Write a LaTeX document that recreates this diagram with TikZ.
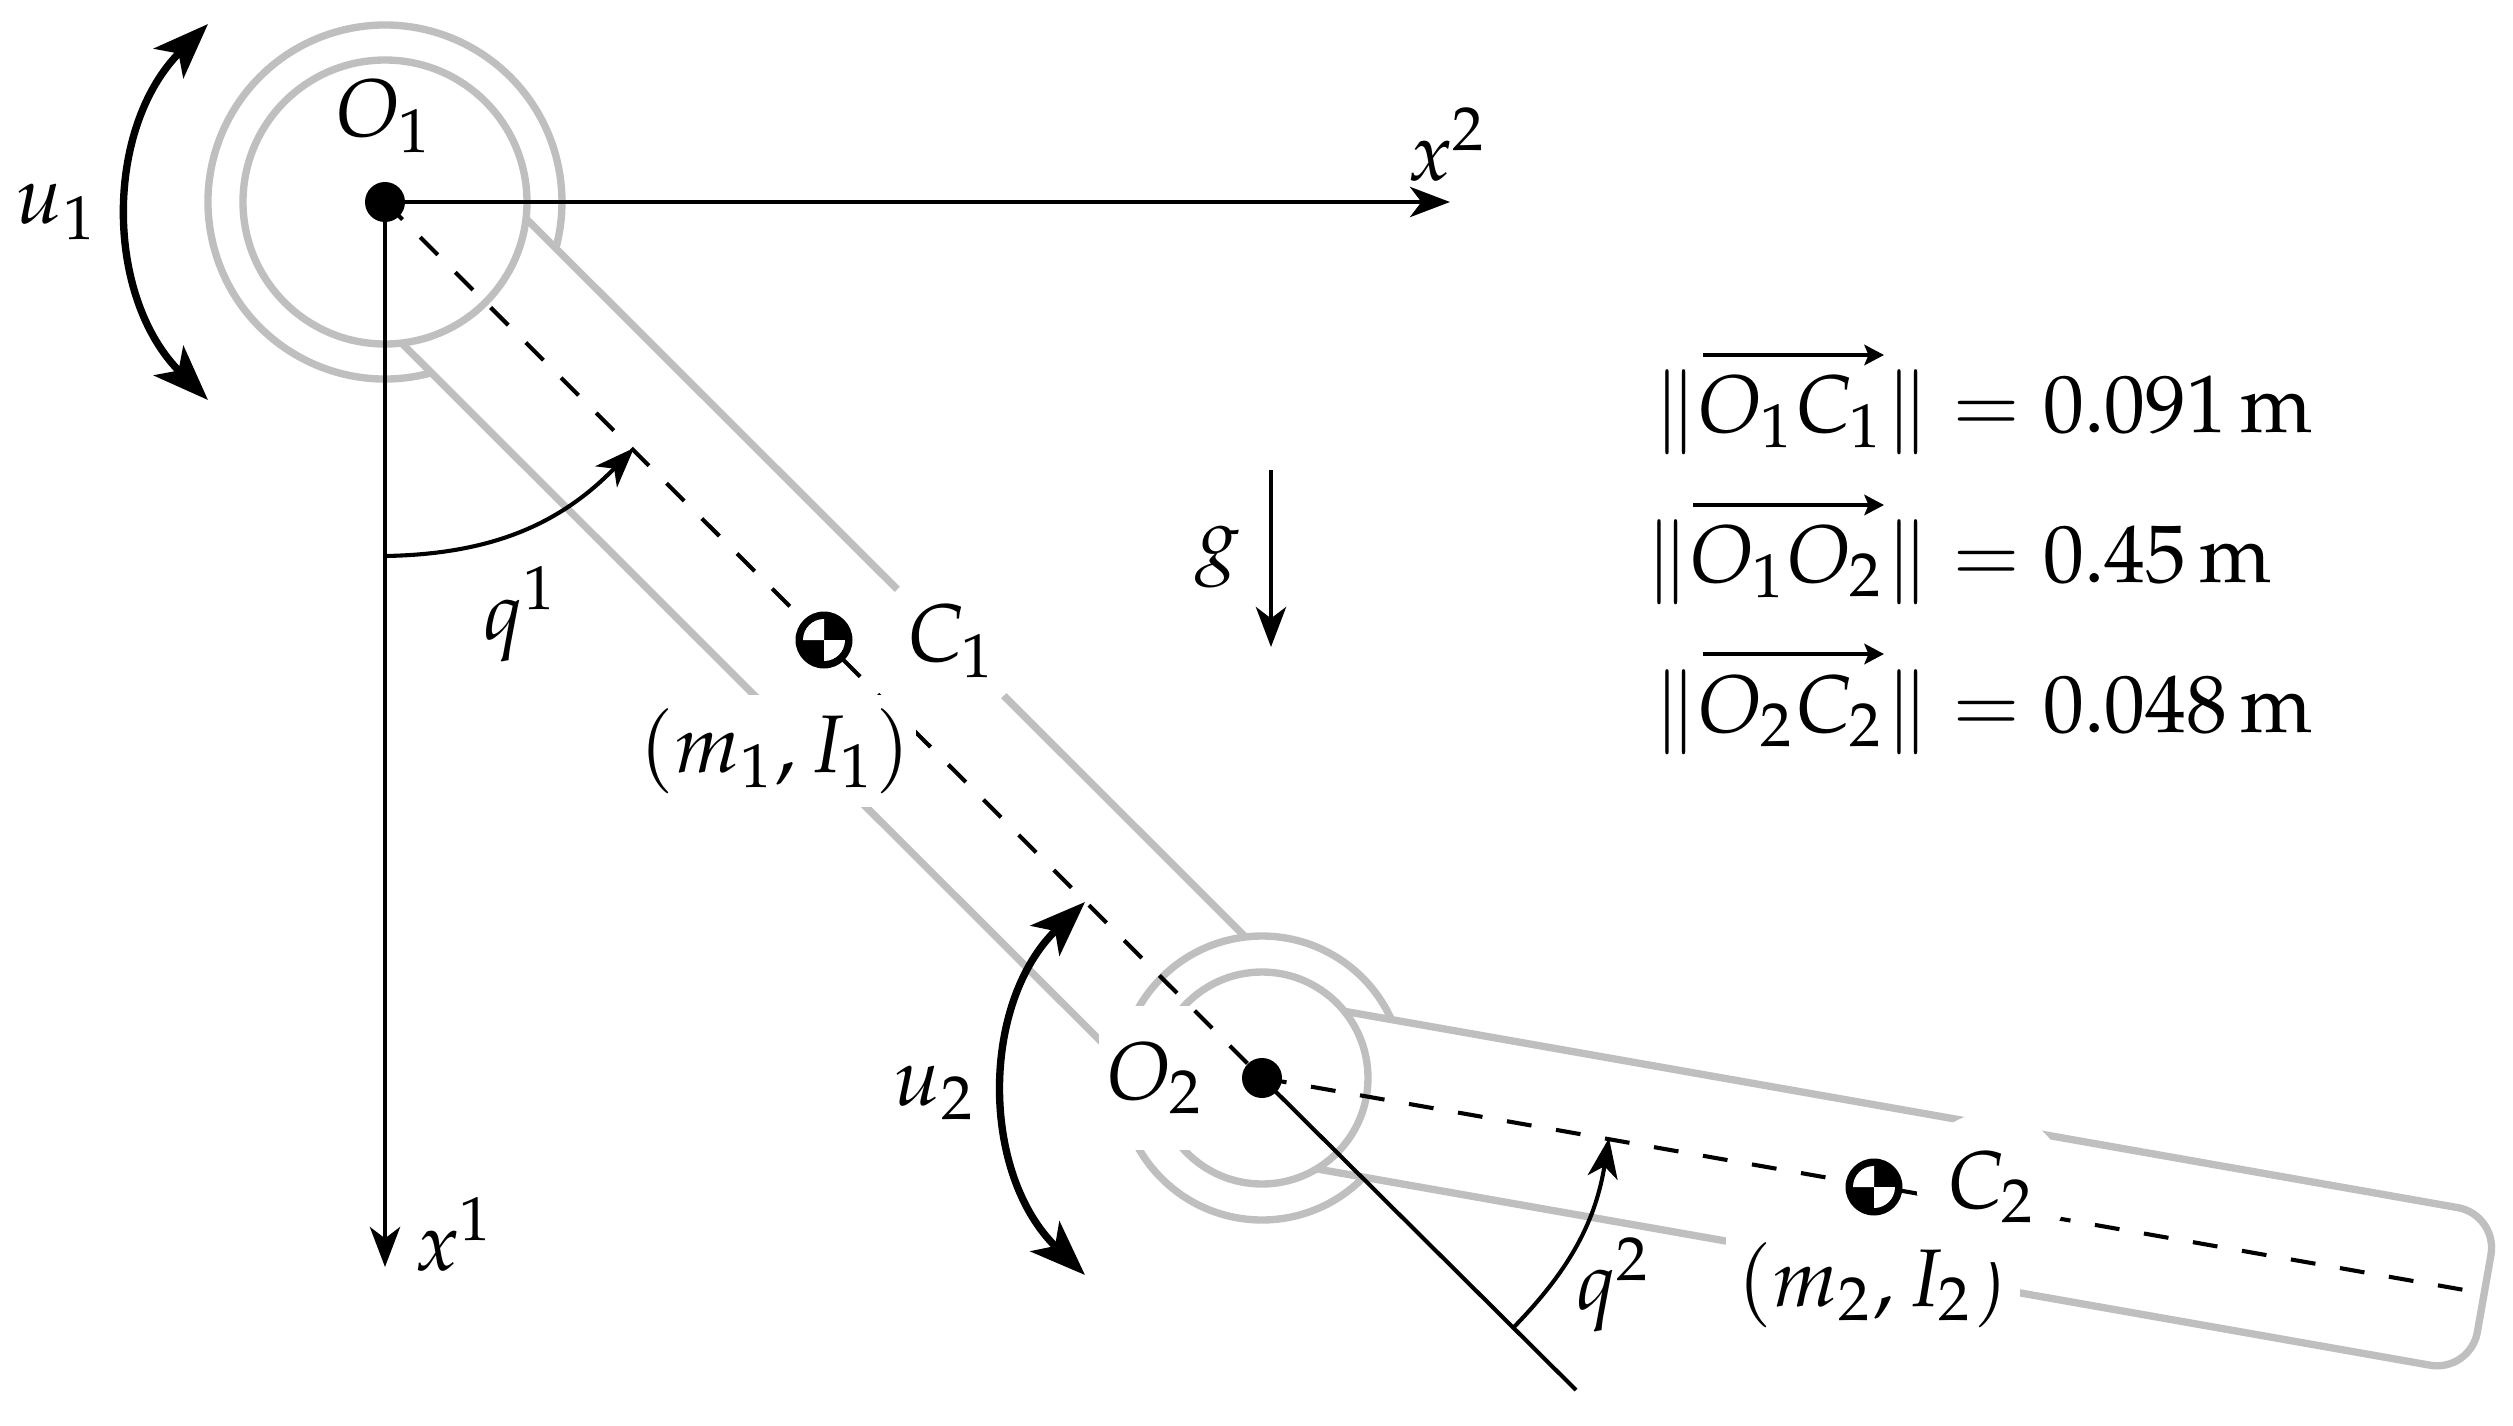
\documentclass[tikz,border=0pt]{standalone}
\usepackage{amsmath}
\usepackage{mathpazo}
\usetikzlibrary{arrows.meta}

\tikzset{
    thintip/.tip={Stealth[length=4.9pt,width=3.7pt,inset=1.4pt]},
    bigtip/.tip={Stealth[length=6.8pt,width=5.1pt,inset=1.7pt]},
    vectip/.tip={Stealth[length=2.4pt,width=2.5pt,inset=0.5pt]},
    link/.style={draw=black!25, line width=0.9pt},
    axis/.style={line width=0.5pt, -thintip},
    torque/.style={line width=0.9pt, bigtip-bigtip},
    centerline/.style={line width=0.5pt, dash pattern=on 3.045pt off 3.045pt},
    vecline/.style={line width=0.5pt, -vectip},
    gapcirc/.style={circle, fill=white, inner sep=0pt, minimum size=18.4pt},
    gaprect/.style={rectangle, fill=white, inner sep=0pt},
    lengthrow/.style={anchor=base west, inner sep=0pt}
}

% center of mass mark
\newcommand{\commark}[1]{
    \fill[black] (#1) circle[radius=28.5];
    \fill[white] (#1) -- ++(180:21) arc[start angle=180, end angle=270, radius=21] -- cycle;
    \fill[white] (#1) -- ++(0:21) arc[start angle=0, end angle=90, radius=21] -- cycle;
}

\begin{document}
\begin{tikzpicture}[x=0.12241pt, y=-0.12241pt]
    \useasboundingbox (0,0) rectangle (2513,1426);

    % Joints and mass centers
    \coordinate (O1) at (385,202);
    \coordinate (O2) at (1262,1078);
    \coordinate (C1) at (824,640);
    \coordinate (C2) at (1874,1187);

    % First link and its rings
    \draw[link] ([shift={(74.8:177)}]O1) arc[start angle=74.8, end angle=375.2, radius=177];
    \draw[link] (O1) circle[radius=142];
    \draw[link] ([shift={(6.7:142)}]O1) -- ([shift={(263.3:142)}]O2);
    \draw[link] ([shift={(83.3:142)}]O1) -- ([shift={(186.7:142)}]O2);

    % Second link and its rings
    \draw[link] ([shift={(44.3:142)}]O2) arc[start angle=44.3, end angle=335.7, radius=142];
    \draw[link] (O2) circle[radius=106];
    \begin{scope}[shift={(O2)}, rotate=-10]
        \coordinate (L2end) at (1223,0);
        \draw[link, rounded corners=5pt] (69.5,-80) -- (1241,-80) -- (1241,80) -- (69.5,80);
    \end{scope}

    % Label of the second joint
    \node (O2lab) [gaprect, minimum width=14pt, minimum height=17.6pt] at (1156,1078) {$O_2$};

    % Axes and center lines
    \coordinate (X1) at (385,1267);
    \coordinate (X2) at (1450,202);
    \coordinate (L2out) at (1576,1390);
    \draw[axis] (O1) -- (X1);
    \draw[axis] (O1) -- (X2);
    \draw[centerline] (O1) -- (O2);
    \draw[centerline] (O2) -- (L2end);
    \draw[line width=0.5pt] (O2) -- (L2out);
    \fill (O1) circle[radius=20];
    \fill (O2) circle[radius=20];

    % Labels that break the links
    \node (m1lab) [gaprect, minimum width=34.5pt, minimum height=13.8pt] at (775,751) {$(m_1,I_1)$};
    \node (C1lab) [gapcirc] at (952,641) {$C_1$};
    \node (m2lab) [gaprect, minimum width=36pt, minimum height=13.8pt] at (1873,1285) {$(m_2,I_2)$};
    \node (C2lab) [gapcirc] at (1992,1187) {$C_2$};
    \commark{C1}
    \commark{C2}

    % Torques
    \coordinate (u1a) at (208,24);
    \coordinate (u1b) at (208,400);
    \coordinate (u2a) at (1085,902);
    \coordinate (u2b) at (1085,1275);
    \draw[torque] (u1a) to[bend right=45] (u1b);
    \draw[torque] (u2a) to[bend right=46] (u2b);

    % Joint angles
    \coordinate (q1a) at (385,556);
    \coordinate (q1b) at (634,448);
    \coordinate (q2a) at (1514,1327);
    \coordinate (q2b) at (1609,1138);
    \draw[axis] (q1a) to[bend right=22.5] (q1b);
    \draw[axis] (q2a) to[bend right=17.5] (q2b);

    % Gravity
    \coordinate (g1) at (1271,470);
    \coordinate (g2) at (1271,647);
    \draw[axis] (g1) -- (g2);

    % Other labels
    \node (O1lab) at (385,116) {$O_1$};
    \node (x1lab) at (455,1234) {$x^1$};
    \node (x2lab) at (1448,145) {$x^2$};
    \node (u1lab) at (57,212) {$u_1$};
    \node (u2lab) at (935,1093) {$u_2$};
    \node (q1lab) at (521,614) {$q^1$};
    \node (q2lab) at (1614,1285) {$q^2$};
    \node (glab) at (1218,557) {$g$};

    % Lengths
    \node (row1) [lengthrow] at (1928,432) {\llap{$\left\lVert O_1C_1\right\rVert$}$\;= 0.091\,\mathrm{m}$};
    \node (row2) [lengthrow] at (1928,582) {\llap{$\left\lVert O_1O_2\right\rVert$}$\;= 0.45\,\mathrm{m}$};
    \node (row3) [lengthrow] at (1928,732) {\llap{$\left\lVert O_2C_2\right\rVert$}$\;= 0.048\,\mathrm{m}$};
    \coordinate (v1a) at (1703,355);
    \coordinate (v1b) at (1884,355);
    \coordinate (v2a) at (1693,505);
    \coordinate (v2b) at (1884,505);
    \coordinate (v3a) at (1703,654);
    \coordinate (v3b) at (1884,654);
    \draw[vecline] (v1a) -- (v1b);
    \draw[vecline] (v2a) -- (v2b);
    \draw[vecline] (v3a) -- (v3b);
\end{tikzpicture}
\end{document}
